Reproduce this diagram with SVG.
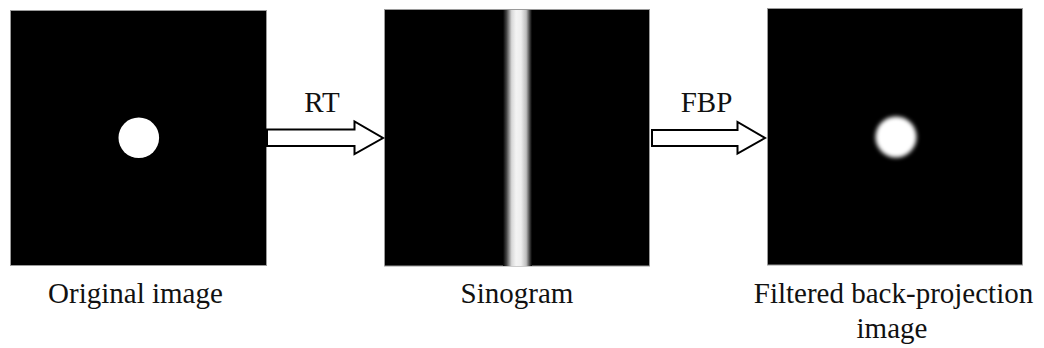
<svg xmlns="http://www.w3.org/2000/svg" width="1044" height="348" viewBox="0 0 1044 348">
  <style>
    .panel { fill: #000; stroke: #9a9a9a; stroke-width: 1; }
    .label { font-family: 'Liberation Serif', 'DejaVu Serif', 'Times New Roman', Times, serif; font-size: 29px; fill: #111; text-anchor: middle; }
    .arrow { fill: #fff; stroke: #000; stroke-width: 2; stroke-linejoin: miter; }
  </style>
  <defs>
    <linearGradient id="band" x1="503" y1="0" x2="532" y2="0" gradientUnits="userSpaceOnUse">
      <stop offset="0" stop-color="#000"/>
      <stop offset="0.12" stop-color="#444"/>
      <stop offset="0.3" stop-color="#d8d8d8"/>
      <stop offset="0.45" stop-color="#f4f4f4"/>
      <stop offset="0.62" stop-color="#eeeeee"/>
      <stop offset="0.8" stop-color="#bdbdbd"/>
      <stop offset="0.92" stop-color="#444"/>
      <stop offset="1" stop-color="#000"/>
    </linearGradient>
    <filter id="soft" x="-50%" y="-50%" width="200%" height="200%">
      <feGaussianBlur stdDeviation="2.2"/>
    </filter>
    <filter id="edge" x="-10%" y="-10%" width="120%" height="120%">
      <feGaussianBlur stdDeviation="0.5"/>
    </filter>
  </defs>

  <!-- original phantom: a single white disc -->
  <g id="original">
    <rect class="panel" x="10.5" y="10.5" width="256" height="255"/>
    <circle cx="138.8" cy="137.8" r="20.3" fill="#fff" filter="url(#edge)"/>
    <text class="label" font-family="Liberation Serif" x="135.5" y="303">Original image</text>
  </g>

  <!-- sinogram: constant-offset band for a centred disc -->
  <g id="sinogram">
    <rect class="panel" x="384.5" y="9.5" width="265" height="256.5"/>
    <rect x="503" y="10" width="29" height="256" fill="url(#band)"/>
    <text class="label" font-family="Liberation Serif" x="517" y="303">Sinogram</text>
  </g>

  <!-- reconstruction after filtered back-projection -->
  <g id="fbp">
    <rect class="panel" x="767.5" y="8.5" width="255" height="256.5"/>
    <circle cx="896" cy="137" r="20.5" fill="#fff" filter="url(#soft)"/>
    <text class="label" font-family="Liberation Serif" x="893.5" y="303">Filtered back-projection</text>
    <text class="label" font-family="Liberation Serif" x="892" y="338">image</text>
  </g>

  <!-- block arrows between stages -->
  <g id="connectors">
    <polygon class="arrow" points="267,129.5 354.5,129.5 354.5,121.5 383,138 354.5,154 354.5,146 267,146"/>
    <text class="label" font-family="Liberation Serif" x="322" y="112">RT</text>
    <polygon class="arrow" points="652,130 737.5,130 737.5,122 765,138 737.5,153.5 737.5,146 652,146"/>
    <text class="label" font-family="Liberation Serif" x="706.5" y="112">FBP</text>
  </g>
</svg>
